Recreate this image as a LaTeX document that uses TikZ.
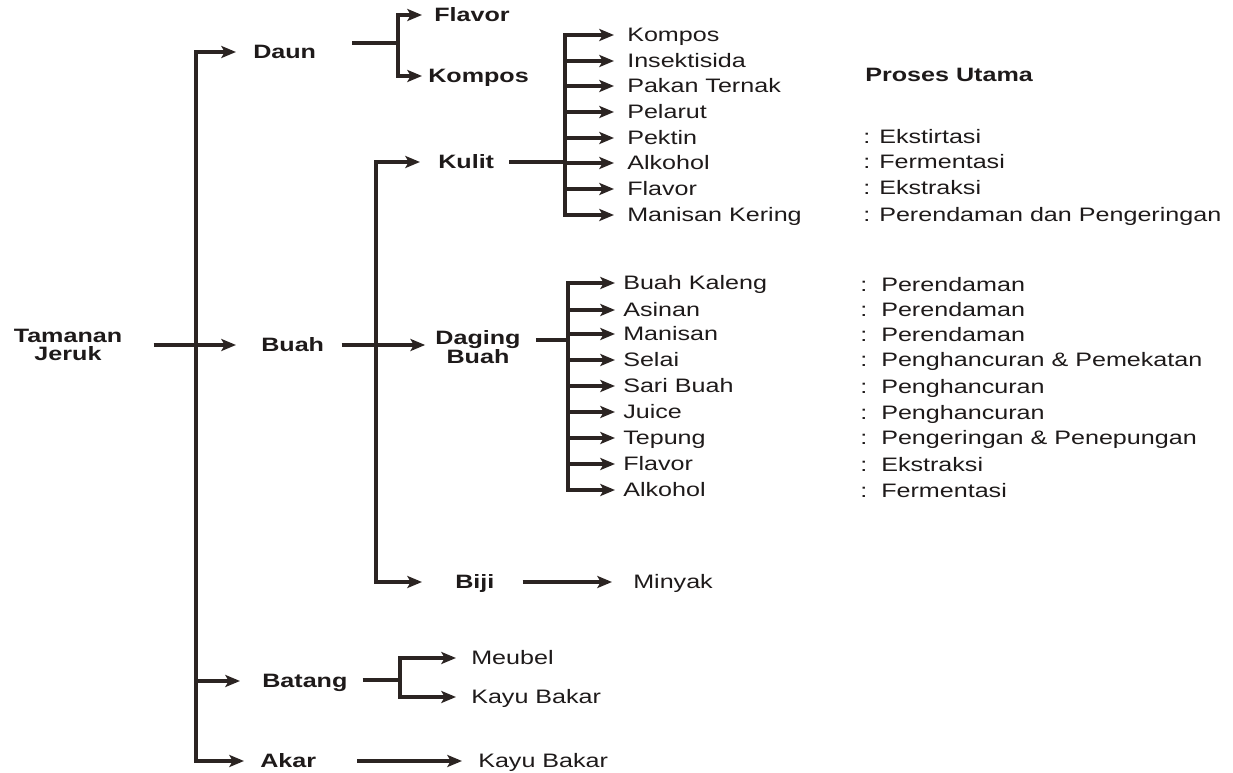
\documentclass[tikz,border=0pt]{standalone}
\usepackage{fontspec}
\setmainfont{Liberation Sans}
\newfontfamily\regwide[FakeStretch=1.29]{Liberation Sans}
\newfontfamily\boldwide[FakeStretch=1.3]{Liberation Sans}
\usetikzlibrary{arrows.meta}
\definecolor{lc}{HTML}{2B2422}
\definecolor{tc}{HTML}{1E1A1A}
\newcommand\regfont{\regwide\fontsize{14.6}{16}\selectfont}
\newcommand\boldfont{\boldwide\bfseries\fontsize{14.5}{13.7}\selectfont\lineskiplimit=-20pt}
% colon followed by the process name
\newcommand\prk[1]{\makebox[12pt][l]{:}#1}
\newcommand\prd[1]{\makebox[15.75pt][l]{:}#1}
\begin{document}
\begin{tikzpicture}[x=0.75pt,y=-0.75pt,
  ln/.style={draw=lc,line width=3.2pt},
  arr/.style={ln,-{Stealth[length=11pt,width=9pt,inset=2.5pt]}},
  lab/.style={font=\regfont,text=tc,inner sep=0pt,anchor=west,text height=10.5pt,text depth=0pt},
  blab/.style={lab,font=\boldfont,text height=10.4pt},
  hub/.style={font=\boldfont,text=tc,inner sep=0pt,anchor=center,align=center},
]
\useasboundingbox (0,0) rectangle (1233,773);

% ---- labels ----
\node[hub]  (root)    at (68,345)  {Tamanan\\Jeruk};
\node[blab] (daun)    at (253,52)  {Daun};
\node[blab] (buah)    at (261,345) {Buah};
\node[blab] (batang)  at (262,681) {Batang};
\node[blab] (akar)    at (260,761) {Akar};
\node[blab] (dflavor) at (434,15)  {Flavor};
\node[blab] (dkompos) at (428,76)  {Kompos};
\node[blab] (kulit)   at (438,162) {Kulit};
\node[hub]  (daging)  at (478,347) {Daging\\Buah};
\node[blab] (biji)    at (455,582) {Biji};
\node[lab]  (minyak)  at (633,582) {Minyak};
\node[lab]  (meubel)  at (471,658) {Meubel};
\node[lab]  (kayu1)   at (471,697) {Kayu Bakar};
\node[lab]  (kayu2)   at (478,761) {Kayu Bakar};
\node[blab] (proses)  at (865,75)  {Proses Utama};

% products from the peel
\foreach \i/\y/\t in {1/35/Kompos,2/61/Insektisida,3/86/Pakan Ternak,4/112/Pelarut,
                      5/138/Pektin,6/163/Alkohol,7/189/Flavor,8/215/Manisan Kering}
  \node[lab] (k\i) at (627,\y) {\t};

% products from the fruit flesh
\foreach \i/\y/\t in {1/283/Buah Kaleng,2/310/Asinan,3/334/Manisan,4/360/Selai,5/386/Sari Buah,
                      6/412/Juice,7/438/Tepung,8/464/Flavor,9/490/Alkohol}
  \node[lab] (d\i) at (623,\y) {\t};

% main processes
\node[lab] (pk5) at (863,137) {\prk{Ekstirtasi}};
\node[lab] (pk6) at (863,162) {\prk{Fermentasi}};
\node[lab] (pk7) at (863,188) {\prk{Ekstraksi}};
\node[lab] (pk8) at (863,215) {\prk{Perendaman dan Pengeringan}};
\foreach \i/\y/\t in {1/285/Perendaman,2/310/Perendaman,3/335/Perendaman,
                      4/360/Penghancuran \& Pemekatan,5/387/Penghancuran,6/413/Penghancuran,
                      7/438/Pengeringan \& Penepungan,8/465/Ekstraksi,9/491/Fermentasi}
  \node[lab] (pd\i) at (860,\y) {\prd{\t}};

% ---- connectors ----
\coordinate (t0)  at (196,345);
\coordinate (dn0) at (398,43);
\coordinate (b0)  at (376,345);
\coordinate (k0)  at (565,162);
\coordinate (d0)  at (568,340);
\coordinate (bt0) at (400,680);

% trunk
\draw[arr,shorten <=23.25pt,shorten >=18.75pt] (root.east) -- (buah.west);
\draw[arr,shorten >=12.75pt] (t0) |- (daun.west);
\draw[arr,shorten >=16.5pt]  (t0) |- (batang.west);
\draw[arr,shorten >=12pt]    (t0) |- (akar.west);

% leaves
\draw[ln,shorten <=27pt] (daun.east |- dn0) -- (dn0);
\draw[arr,shorten >=9pt]    (dn0) |- (dflavor.west);
\draw[arr,shorten >=4.5pt]  (dn0) |- (dkompos.west);

% fruit
\draw[arr,shorten <=13pt,shorten >=7.5pt] (buah.east) -- (buah.east -| daging.west);
\draw[arr,shorten >=13.5pt]  (b0) |- (kulit.west);
\draw[arr,shorten >=24.75pt] (b0) |- (biji.west);
\draw[arr,shorten <=21pt,shorten >=15.75pt] (biji.east) -- (minyak.west);

% peel
\draw[ln,shorten <=11.25pt] (kulit.east) -- (k0);
\foreach \i in {1,...,8}
  \draw[arr,shorten >=9.75pt] (k0) |- (k\i.west);

% flesh
\draw[ln,shorten <=11.25pt] (daging.east |- d0) -- (d0);
\foreach \i in {1,...,9}
  \draw[arr,shorten >=6pt] (d0) |- (d\i.west);

% stem
\draw[ln,shorten <=11.25pt] (batang.east |- bt0) -- (bt0);
\draw[arr,shorten >=11.25pt] (bt0) |- (meubel.west);
\draw[arr,shorten >=11.25pt] (bt0) |- (kayu1.west);

% root
\draw[arr,shorten <=30.75pt,shorten >=12pt] (akar.east) -- (kayu2.west);
\end{tikzpicture}
\end{document}
